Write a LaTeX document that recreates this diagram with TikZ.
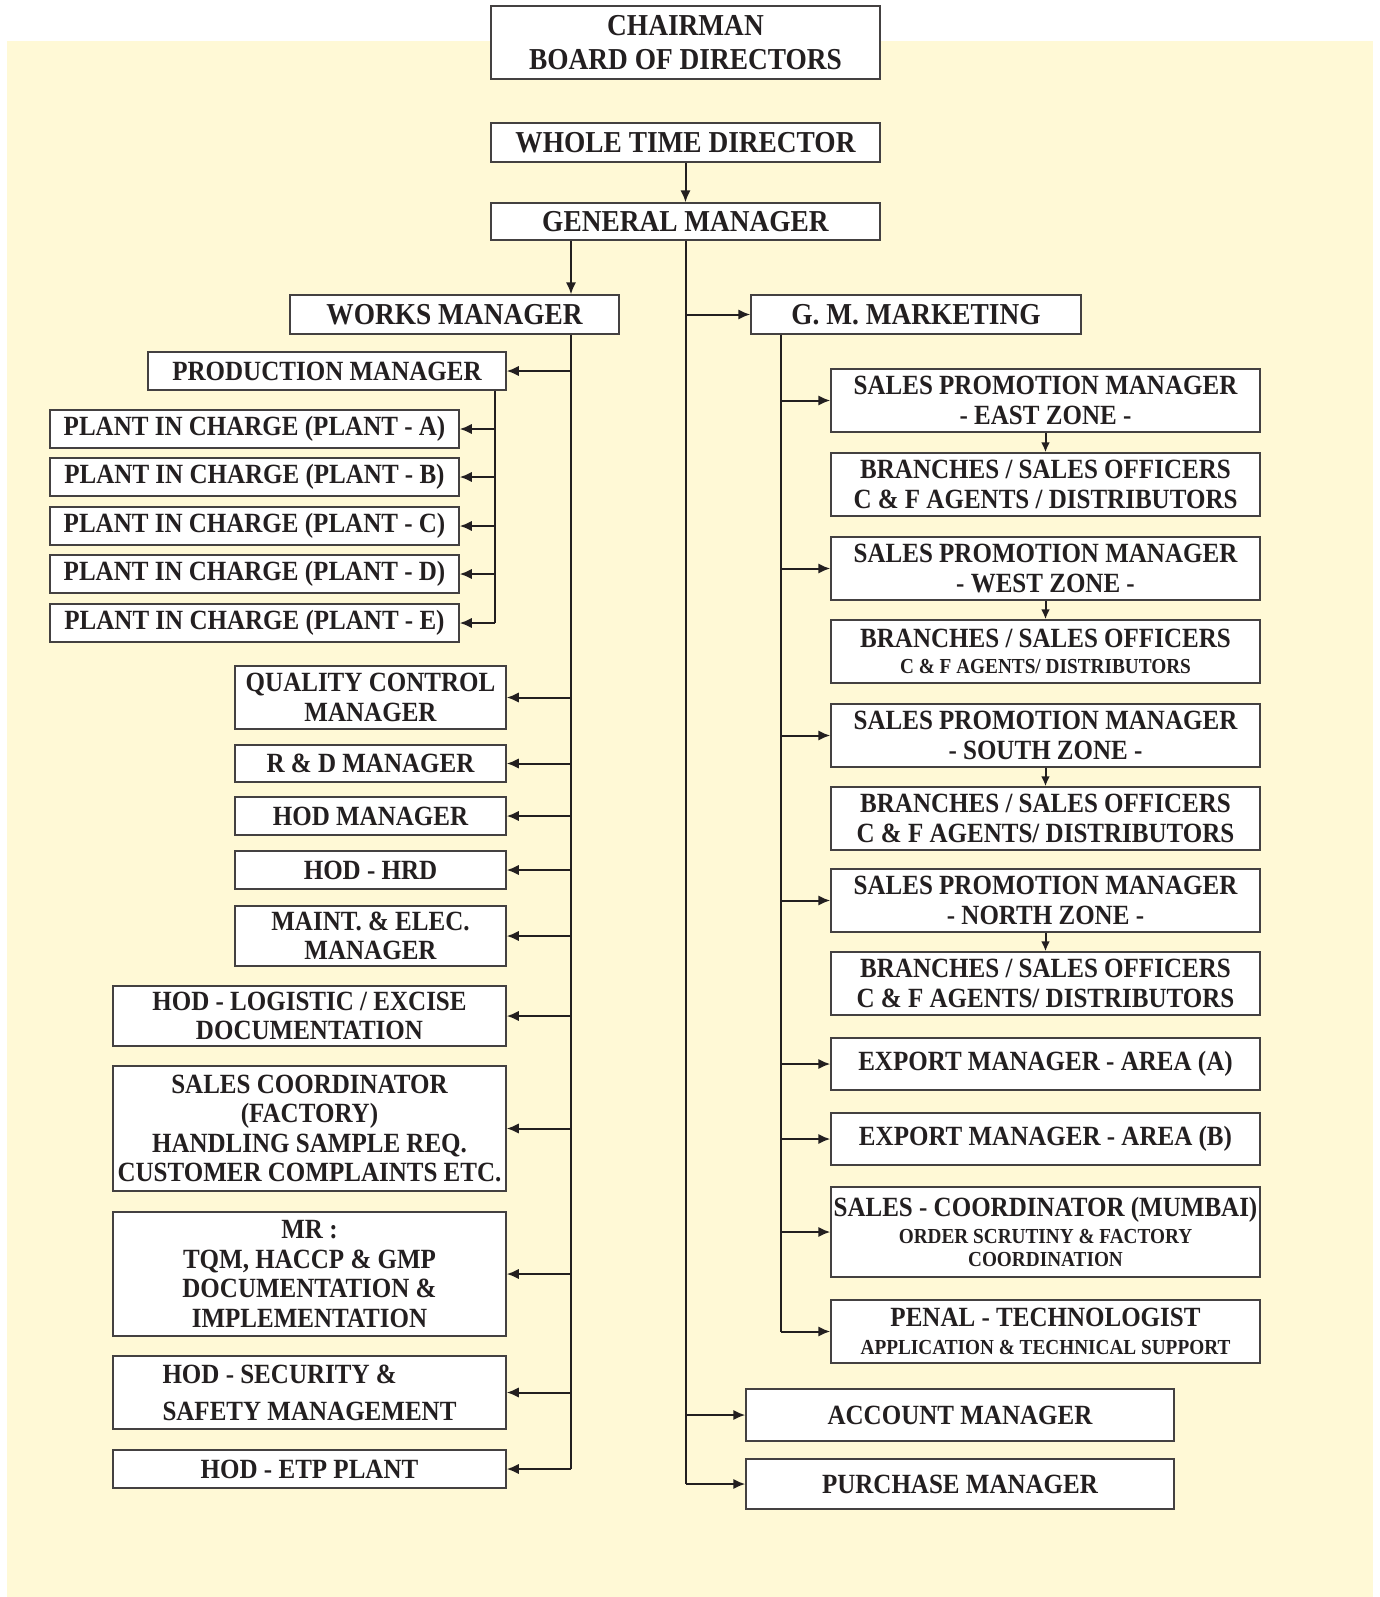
\documentclass[tikz,border=0pt]{standalone}
\usepackage{fontspec}
\setmainfont{Liberation Serif}[FakeStretch=0.9]
\usepackage{tikz}
\usetikzlibrary{arrows.meta}
\definecolor{paper}{HTML}{FFF9D6}
\definecolor{ink}{HTML}{231F20}
\newcommand\smalltext{\fontsize{10.7}{11.7}\selectfont}

\begin{document}
\begin{tikzpicture}[x=0.5pt,y=-0.5pt,
  box/.style={draw=ink!85,fill=white,line width=0.75pt,inner sep=0pt,align=center,text=ink,
    font={\bfseries\fontsize{13.9}{14.8}\selectfont}},
  topbox/.style={box,minimum width=194.5pt,font={\bfseries\fontsize{15.2}{16.8}\selectfont}},
  plant/.style={box,minimum width=204.5pt,minimum height=19pt},
  mgr/.style={box,minimum width=135.5pt},
  wide/.style={box,minimum width=196.5pt},
  zone/.style={box,minimum width=214.5pt},
  link/.style={draw=ink,line width=1pt},
  arr/.style={link,-{Latex[length=6pt,width=5.2pt]}},
  zarr/.style={link,-{Latex[length=5pt,width=4.5pt]}}]
\useasboundingbox (0,0) rectangle (1380,1597);
\fill[paper] (7,41) rectangle (1373,1597);

% top of the chart
\node[topbox,minimum height=36.5pt] (chair) at (685.5,42.5) {CHAIRMAN\\BOARD OF DIRECTORS};
\node[topbox,minimum height=19.5pt] (wtd) at (685.5,142.5) {WHOLE TIME DIRECTOR};
\node[topbox,minimum height=18.5pt] (gm) at (685.5,221.5) {GENERAL MANAGER};
\node[topbox,minimum width=164.5pt,minimum height=19.5pt] (wm) at (454.5,314.5) {WORKS MANAGER};
\node[topbox,minimum width=165pt,minimum height=19.5pt] (gmm) at (916,314.5) {G. M. MARKETING};

\coordinate (wmx) at (571,0);
\coordinate (pmx) at (495,0);
\coordinate (mkx) at (781,0);

% works side
\node[box,minimum width=179pt,minimum height=19pt] (prod) at (327,371) {PRODUCTION MANAGER};
\node[plant] (pa) at (254.5,429) {PLANT IN CHARGE (PLANT - A)};
\node[plant] (pb) at (254.5,477) {PLANT IN CHARGE (PLANT - B)};
\node[plant] (pc) at (254.5,526) {PLANT IN CHARGE (PLANT - C)};
\node[plant] (pd) at (254.5,574) {PLANT IN CHARGE (PLANT - D)};
\node[plant] (pe) at (254.5,623) {PLANT IN CHARGE (PLANT - E)};

\node[mgr,minimum height=31.5pt] (qc) at (370.5,697.5) {QUALITY CONTROL\\MANAGER};
\node[mgr,minimum height=18.5pt] (rd) at (370.5,763.5) {R \& D MANAGER};
\node[mgr,minimum height=19pt] (hodm) at (370.5,816) {HOD MANAGER};
\node[mgr,minimum height=19pt] (hrd) at (370.5,870) {HOD - HRD};
\node[mgr,minimum height=30pt] (maint) at (370.5,936) {MAINT. \& ELEC.\\MANAGER};

\node[wide,minimum height=30pt] (logi) at (309.5,1016) {HOD - LOGISTIC / EXCISE\\DOCUMENTATION};
\node[wide,minimum height=62.5pt] (scf) at (309.5,1128.5) {SALES COORDINATOR\\(FACTORY)\\HANDLING SAMPLE REQ.\\CUSTOMER COMPLAINTS ETC.};
\node[wide,minimum height=62pt] (mr) at (309.5,1274) {MR :\\TQM, HACCP \& GMP\\DOCUMENTATION \&\\IMPLEMENTATION};
\node[wide,minimum height=36.5pt,align=left] (sec) at (309.5,1392.5) {HOD - SECURITY \&\\[3.7pt]SAFETY MANAGEMENT};
\node[wide,minimum height=19pt] (etp) at (309.5,1469) {HOD - ETP PLANT};

% marketing side
\node[zone,minimum height=31.5pt] (spme) at (1045.5,400.5) {SALES PROMOTION MANAGER\\- EAST ZONE -};
\node[zone,minimum height=31.5pt] (bre) at (1045.5,484.5) {BRANCHES / SALES OFFICERS\\C \& F AGENTS / DISTRIBUTORS};
\node[zone,minimum height=31.5pt] (spmw) at (1045.5,568.5) {SALES PROMOTION MANAGER\\- WEST ZONE -};
\node[zone,minimum height=31.5pt] (brw) at (1045.5,651.5) {BRANCHES / SALES OFFICERS\\[-1.5pt]{\smalltext C \& F AGENTS/ DISTRIBUTORS}};
\node[zone,minimum height=31.5pt] (spms) at (1045.5,735.5) {SALES PROMOTION MANAGER\\- SOUTH ZONE -};
\node[zone,minimum height=31.5pt] (brs) at (1045.5,818.5) {BRANCHES / SALES OFFICERS\\C \& F AGENTS/ DISTRIBUTORS};
\node[zone,minimum height=31.5pt] (spmn) at (1045.5,900.5) {SALES PROMOTION MANAGER\\- NORTH ZONE -};
\node[zone,minimum height=31.5pt] (brn) at (1045.5,983.5) {BRANCHES / SALES OFFICERS\\C \& F AGENTS/ DISTRIBUTORS};
\node[zone,minimum height=26pt] (expa) at (1045.5,1064) {EXPORT MANAGER - AREA (A)};
\node[zone,minimum height=26pt] (expb) at (1045.5,1139) {EXPORT MANAGER - AREA (B)};
\node[zone,minimum height=45pt] (scm) at (1045.5,1232) {SALES - COORDINATOR (MUMBAI)\\[-1.5pt]{\smalltext ORDER SCRUTINY \& FACTORY}\\[-3pt]{\smalltext COORDINATION}};
\node[zone,minimum height=31.5pt] (penal) at (1045.5,1331.5) {PENAL - TECHNOLOGIST\\[-1pt]{\smalltext APPLICATION \& TECHNICAL SUPPORT}};

\node[box,minimum width=214pt,minimum height=26pt] (acc) at (960,1415) {ACCOUNT MANAGER};
\node[box,minimum width=214pt,minimum height=25pt] (pur) at (960,1484) {PURCHASE MANAGER};

% connectors
\draw[arr] (wtd) -- (gm);
\draw[link] (gm.south) -- (gm.south |- pur.west);
\draw[arr] (gm.south -| wmx) -- (wm.north -| wmx);
\draw[arr] (gmm.west -| gm.south) -- (gmm.west);
\draw[arr] (acc.west -| gm.south) -- (acc.west);
\draw[arr] (pur.west -| gm.south) -- (pur.west);

\draw[link] (wm.south -| wmx) -- (etp.east -| wmx);
\draw[arr] (prod.east -| wmx) -- (prod.east);
\draw[arr] (qc.east -| wmx) -- (qc.east);
\draw[arr] (rd.east -| wmx) -- (rd.east);
\draw[arr] (hodm.east -| wmx) -- (hodm.east);
\draw[arr] (hrd.east -| wmx) -- (hrd.east);
\draw[arr] (maint.east -| wmx) -- (maint.east);
\draw[arr] (logi.east -| wmx) -- (logi.east);
\draw[arr] (scf.east -| wmx) -- (scf.east);
\draw[arr] (mr.east -| wmx) -- (mr.east);
\draw[arr] (sec.east -| wmx) -- (sec.east);
\draw[arr] (etp.east -| wmx) -- (etp.east);

\draw[link] (prod.south -| pmx) -- (pe.east -| pmx);
\draw[arr] (pa.east -| pmx) -- (pa.east);
\draw[arr] (pb.east -| pmx) -- (pb.east);
\draw[arr] (pc.east -| pmx) -- (pc.east);
\draw[arr] (pd.east -| pmx) -- (pd.east);
\draw[arr] (pe.east -| pmx) -- (pe.east);

\draw[link] (gmm.south -| mkx) -- (penal.west -| mkx);
\draw[arr] (spme.west -| mkx) -- (spme.west);
\draw[arr] (spmw.west -| mkx) -- (spmw.west);
\draw[arr] (spms.west -| mkx) -- (spms.west);
\draw[arr] (spmn.west -| mkx) -- (spmn.west);
\draw[arr] (expa.west -| mkx) -- (expa.west);
\draw[arr] (expb.west -| mkx) -- (expb.west);
\draw[arr] (scm.west -| mkx) -- (scm.west);
\draw[arr] (penal.west -| mkx) -- (penal.west);

\draw[zarr] (spme) -- (bre);
\draw[zarr] (spmw) -- (brw);
\draw[zarr] (spms) -- (brs);
\draw[zarr] (spmn) -- (brn);
\end{tikzpicture}
\end{document}
